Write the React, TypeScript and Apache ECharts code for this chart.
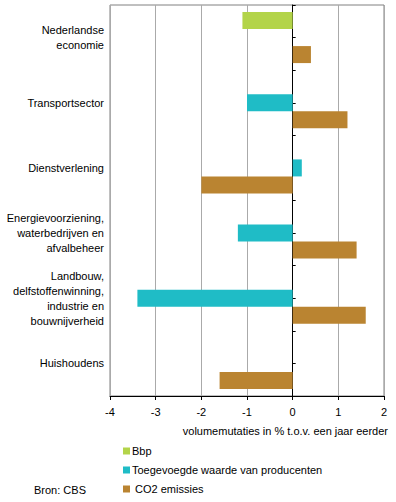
import React, { useEffect, useRef } from "react";
import * as echarts from "echarts";

const categories = [
  "Nederlandse\neconomie",
  "Transportsector",
  "Dienstverlening",
  "Energievoorziening,\nwaterbedrijven en\nafvalbeheer",
  "Landbouw,\ndelfstoffenwinning,\nindustrie en\nbouwnijverheid",
  "Huishoudens",
];
const seriesNames = ["Bbp", "Toegevoegde waarde van producenten", "CO2 emissies"];
const bbp = [-1.1, null, null, null, null, null];
const toegevoegdeWaarde = [null, -1.0, 0.2, -1.2, -3.4, null];
const co2 = [0.4, 1.2, -2.0, 1.4, 1.6, -1.6];
const colors = ["#B3D449", "#1FBCC6", "#BA8431"];
const xTicks = { min: -4, max: 2, interval: 1 };
const halfBands = ["", "", "", "", "", "", "", "", "", "", "", ""];

const FONT = "Liberation Sans, Arial, sans-serif";

export default function App() {
  const ref = useRef<HTMLDivElement>(null);
  useEffect(() => {
    document.body.style.margin = "0";
    const chart = echarts.init(ref.current!, null, { renderer: "svg" });
    const values = [bbp, toegevoegdeWaarde, co2];
    chart.setOption({
      animation: false,
      textStyle: { fontFamily: FONT },
      grid: {
        left: 110,
        right: 12,
        top: 5,
        bottom: 106,
        show: true,
        borderColor: "#808080",
        borderWidth: 1,
      },
      xAxis: {
        type: "value",
        min: xTicks.min,
        max: xTicks.max,
        interval: xTicks.interval,
        axisLine: { show: true, lineStyle: { color: "#000", width: 1 } },
        axisTick: { show: true, length: 4, lineStyle: { color: "#000" } },
        axisLabel: { fontSize: 11, color: "#000", margin: 10, fontFamily: FONT },
        splitLine: { show: true, lineStyle: { color: "#AAAAAA", width: 1 } },
      },
      yAxis: [
        {
          type: "category",
          data: categories,
          inverse: true,
          position: "left",
          axisLine: { show: false, onZero: false },
          axisTick: { show: false },
          axisLabel: {
            fontSize: 11,
            color: "#000",
            lineHeight: 15,
            margin: 6,
            fontFamily: FONT,
          },
          splitLine: { show: false },
        },
        {
          type: "category",
          data: halfBands,
          inverse: true,
          position: "left",
          axisLine: { show: true, onZero: true, lineStyle: { color: "#000", width: 1 } },
          axisTick: { show: true, inside: true, length: 3, lineStyle: { color: "#000" } },
          axisLabel: { show: false },
          splitLine: { show: false },
        },
      ],
      legend: {
        orient: "vertical",
        left: 118,
        top: 440,
        icon: "rect",
        itemWidth: 7,
        itemHeight: 7,
        itemGap: 7,
        data: seriesNames,
        formatter: (name: string) => (name === "CO2 emissies" ? " CO2 emissies" : name),
        textStyle: { fontSize: 11, color: "#000", lineHeight: 12, fontFamily: FONT, padding: [0, 0, 0, -3] },
      },
      graphic: [
        {
          type: "text",
          right: 8,
          top: 425,
          style: {
            text: "volumemutaties in % t.o.v. een jaar eerder",
            fontSize: 11,
            fill: "#000",
            fontFamily: FONT,
          },
        },
        {
          type: "text",
          left: 34,
          top: 484,
          style: { text: "Bron: CBS", fontSize: 11, fill: "#000", fontFamily: FONT },
        },
      ],
      series: seriesNames.map((name, i) => ({
        name,
        type: "bar",
        yAxisIndex: 0,
        data: values[i],
        barWidth: 17,
        barGap: "0%",
        itemStyle: { color: colors[i] },
      })),
    });
    return () => chart.dispose();
  }, []);
  return <div ref={ref} style={{ width: 396, height: 502 }} />;
}
